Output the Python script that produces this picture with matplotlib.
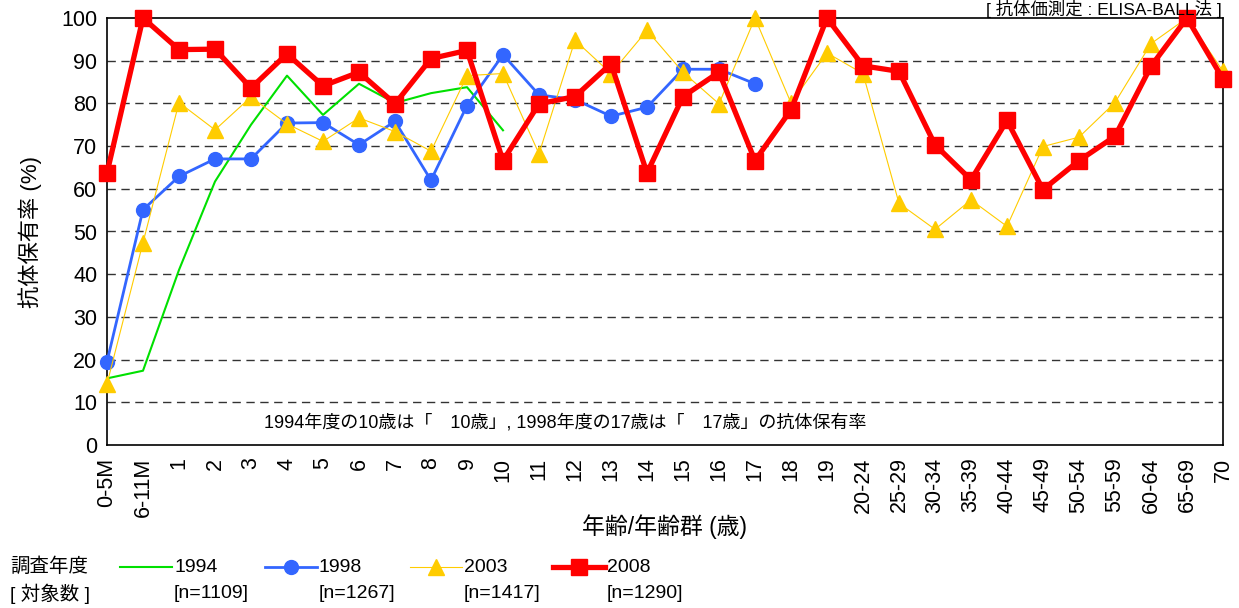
import numpy as np
import matplotlib
matplotlib.use("Agg")
import matplotlib.pyplot as plt
from matplotlib.lines import Line2D

plt.rcParams['font.family'] = ['Liberation Sans', 'Noto Sans CJK JP']

# age groups
ages = ['0-5M', '6-11M'] + [str(a) for a in range(1, 20)] + \
       ['20-24', '25-29', '30-34', '35-39', '40-44', '45-49',
        '50-54', '55-59', '60-64', '65-69', '70']

# antibody prevalence (%) by survey year
y1994 = [15.6, 17.4, 41.0, 61.7, 75.0, 86.5, 77.3, 84.6, 80.1, 82.4, 83.8, 73.7]
y1998 = [19.5, 55.1, 62.9, 67.0, 67.0, 75.4, 75.5, 70.3, 75.8, 62.0, 79.5, 91.4,
         82.0, 80.9, 77.0, 79.1, 88.0, 88.0, 84.6]
y2003 = [14.3, 47.4, 80.2, 73.8, 81.5, 75.2, 71.1, 76.6, 73.4, 68.8, 86.5, 87.0,
         68.2, 94.8, 87.0, 97.1, 87.3, 79.9, 100.0, 80.1, 91.8,
         87.0, 56.6, 50.5, 57.4, 51.2, 69.9, 72.1, 80.2, 94.0, 100.0, 87.5]
y2008 = [63.7, 100.0, 92.6, 92.7, 83.6, 91.6, 84.1, 87.3, 79.9, 90.5, 92.4, 66.6,
         79.9, 81.6, 89.3, 63.7, 81.6, 87.3, 66.6, 78.5, 100.0,
         88.8, 87.5, 70.3, 62.1, 76.0, 59.8, 66.6, 72.3, 88.7, 100.0, 85.7]

years = ['1994', '1998', '2003', '2008']
counts = ['[n=1109]', '[n=1267]', '[n=1417]', '[n=1290]']

styles = [
    dict(color='#00e000', lw=1.5, marker=None),
    dict(color='#3366ff', lw=2.0, marker='o', ms=10),
    dict(color='#ffcc00', lw=0.8, marker='^', ms=11),
    dict(color='#ff0000', lw=3.8, marker='s', ms=11),
]

W, H = 1239, 608
fig = plt.figure(figsize=(W / 100, H / 100), dpi=100)
ax = fig.add_axes([107/W, 1-445/H, (1223-107)/W, (445-18)/H])

x = np.arange(len(ages))
for vals, st in zip([y1994, y1998, y2003, y2008], styles):
    ax.plot(x[:len(vals)], vals, color=st['color'], lw=st['lw'],
            marker=st['marker'], ms=st.get('ms', 0), mec=st['color'],
            clip_on=False, zorder=3)

ax.set_xlim(0, len(ages) - 1)
ax.set_ylim(0, 100)
ax.set_yticks(range(0, 101, 10))
ax.set_xticks(x)
ax.set_xticklabels(ages, rotation=90, fontsize=15.5)
ax.tick_params(axis='y', labelsize=15.5, length=0, pad=7)
ax.tick_params(axis='x', length=0, pad=9)
for v in range(10, 100, 10):
    ax.axhline(v, color='#333333', lw=1, ls=(0, (6, 4)), zorder=1)
for s in ax.spines.values():
    s.set_linewidth(1.2)

ax.set_ylabel('抗体保有率 (%)', fontsize=16)
ax.yaxis.set_label_coords((30 - 107) / 1116, 0.5)
ax.yaxis.label.set_va('center')
ax.set_xlabel('年齢/年齢群 (歳)', fontsize=16.5)
ax.xaxis.set_label_coords(0.5, (445 - 527) / 427)
ax.xaxis.label.set_va('center')

fig.text(565/W, 1-423/H, '1994年度の10歳は「　10歳」, 1998年度の17歳は「　17歳」の抗体保有率',
         fontsize=13, ha='center', va='center')
fig.text(1222/W, 1.0, '[ 抗体価測定 : ELISA-BALL法 ]', fontsize=12.5,
         ha='right', va='top')

# legend block
fig.text(10/W, 1-567/H, '調査年度', fontsize=14, va='center')
fig.text(10/W, 1-594/H, '[ 対象数 ]', fontsize=14, va='center')
lx = [120, 265, 410, 553]
for i, st in enumerate(styles):
    x0, x1 = lx[i], lx[i] + 52
    yy = 1 - 567/H
    fig.add_artist(Line2D([x0/W, x1/W], [yy, yy], color=st['color'],
                          lw=st['lw'], transform=fig.transFigure))
    if st['marker']:
        fig.add_artist(Line2D([(x0 + x1)/2/W], [yy], color=st['color'],
                              marker=st['marker'], ms=st['ms'], lw=0,
                              transform=fig.transFigure))
    fig.text((x1 + 2)/W, yy, years[i], fontsize=14, va='center')
    fig.text((x1 + 2)/W, 1-593/H, counts[i], fontsize=14, va='center')

fig.savefig('out.png', dpi=100)
